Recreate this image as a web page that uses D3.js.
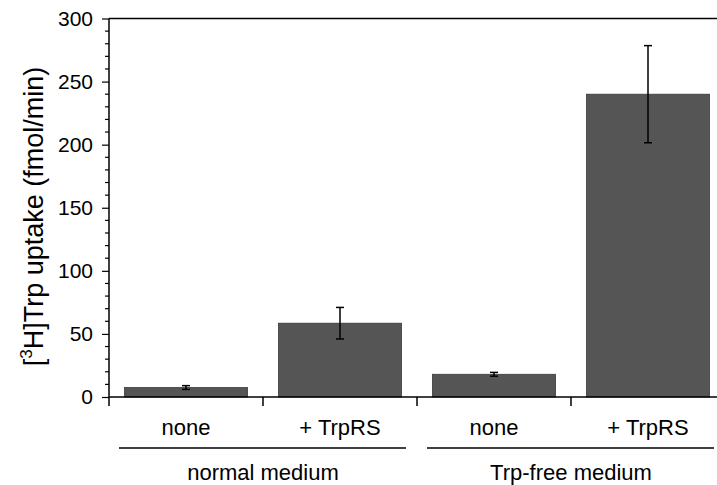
<!DOCTYPE html>
<html>
<head>
<meta charset="utf-8">
<script src="https://cdn.jsdelivr.net/npm/d3@7"></script>
<style>
  html, body { margin: 0; padding: 0; background: #fff; }
  svg { display: block; font-family: "Liberation Sans", Arial, sans-serif; }
</style>
</head>
<body>
<svg id="chart" width="717" height="485"></svg>
<script>
const categories = ["none", "+ TrpRS", "none", "+ TrpRS"];
const groups = ["normal medium", "Trp-free medium"];
const values = [7.5, 58.5, 18, 240];
const errors = [1.5, 12.5, 1.5, 38.5];
const yTicks = [0, 50, 100, 150, 200, 250, 300];

(function () {
const svg = d3.select("#chart");
const mLeft = 109, mRight = 725, mTop = 18.5, mBottom = 397;

const xb = d3.scaleBand().domain(d3.range(categories.length)).range([mLeft, mRight]);
const y = d3.scaleLinear().domain([0, 300]).range([mBottom, mTop]);

// bars
svg.append("g").selectAll("rect").data(values).join("rect")
  .attr("x", (d, i) => xb(i) + (xb.bandwidth() - 123) / 2)
  .attr("width", 123)
  .attr("y", d => y(d))
  .attr("height", d => y(0) - y(d))
  .attr("fill", "#555555")
  .attr("stroke", "#3a3a3a")
  .attr("stroke-width", 0.8);

// error bars
const eb = svg.append("g").attr("stroke", "#000").attr("stroke-width", 1.5);
values.forEach((v, i) => {
  const cx = xb(i) + xb.bandwidth() / 2;
  eb.append("line").attr("x1", cx).attr("x2", cx).attr("y1", y(v + errors[i])).attr("y2", y(v - errors[i]));
  eb.append("line").attr("x1", cx - 4).attr("x2", cx + 4).attr("y1", y(v + errors[i])).attr("y2", y(v + errors[i]));
  eb.append("line").attr("x1", cx - 4).attr("x2", cx + 4).attr("y1", y(v - errors[i])).attr("y2", y(v - errors[i]));
});

// y axis: major
const yAxis = svg.append("g").attr("transform", `translate(${mLeft},0)`)
  .call(d3.axisLeft(y).tickValues(yTicks).tickSize(7).tickPadding(9).tickSizeOuter(0));
yAxis.select(".domain").remove();
yAxis.selectAll("text").attr("font-size", 21).attr("fill", "#000").attr("font-family", "Liberation Sans, Arial, sans-serif");
yAxis.selectAll("line").attr("stroke", "#000").attr("stroke-width", 1.2);
// minor ticks
const minor = d3.range(0, 301, 10).filter(v => v % 50 !== 0);
svg.append("g").selectAll("line").data(minor).join("line")
  .attr("x1", mLeft - 4).attr("x2", mLeft)
  .attr("y1", d => y(d)).attr("y2", d => y(d))
  .attr("stroke", "#000").attr("stroke-width", 1.2);

// axis lines
const ax = svg.append("g").attr("stroke", "#000").attr("stroke-width", 1.5);
ax.append("line").attr("x1", mLeft).attr("x2", mLeft).attr("y1", mTop).attr("y2", mBottom + 9);
ax.append("line").attr("x1", mLeft).attr("x2", mRight).attr("y1", mBottom).attr("y2", mBottom);
ax.append("line").attr("x1", mLeft).attr("x2", mRight).attr("y1", mTop).attr("y2", mTop);
d3.range(1, categories.length + 1).forEach(i => {
  const xx = i < categories.length ? xb(i) : mRight;
  ax.append("line").attr("x1", xx).attr("x2", xx).attr("y1", mBottom).attr("y2", mBottom + 9);
});

// category labels
svg.append("g").selectAll("text").data(categories).join("text")
  .attr("x", (d, i) => xb(i) + xb.bandwidth() / 2)
  .attr("y", 435)
  .attr("text-anchor", "middle")
  .attr("font-size", 22)
  .text(d => d);

// group lines and labels
groups.forEach((g, gi) => {
  const x0 = xb(gi * 2), x1 = gi * 2 + 2 < categories.length ? xb(gi * 2 + 2) : mRight;
  svg.append("line").attr("x1", x0 + 10).attr("x2", x1 - 11).attr("y1", 448).attr("y2", 448)
    .attr("stroke", "#000").attr("stroke-width", 1.5);
  svg.append("text").attr("x", (x0 + x1) / 2).attr("y", 479.5).attr("text-anchor", "middle")
    .attr("font-size", 22).text(g);
});

// y axis title
const t = svg.append("text")
  .attr("transform", `translate(43,216.5) rotate(-90)`)
  .attr("text-anchor", "middle")
  .attr("font-size", 27);
t.append("tspan").text("[");
t.append("tspan").attr("font-size", 17).attr("dy", -11).text("3");
t.append("tspan").attr("dy", 11).text("H]Trp uptake (fmol/min)");
})();
</script>
</body>
</html>
